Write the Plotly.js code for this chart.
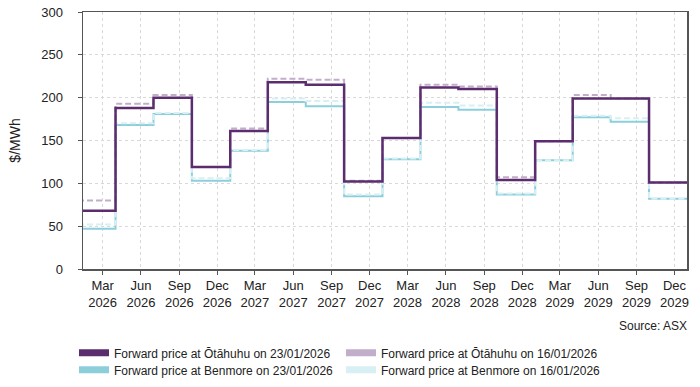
<!DOCTYPE html>
<html>
<head>
<meta charset="utf-8">
<script src="https://cdn.plot.ly/plotly-3.0.1.min.js"></script>
<style>html,body{margin:0;padding:0;background:#fff;}#chart{width:700px;height:387px;}</style>
</head>
<body>
<div id="chart"></div>
<script>
// Quarter labels (tick at the last month of each quarter)
const quarters = ['Mar 2026','Jun 2026','Sep 2026','Dec 2026','Mar 2027','Jun 2027','Sep 2027','Dec 2027',
                  'Mar 2028','Jun 2028','Sep 2028','Dec 2028','Mar 2029','Jun 2029','Sep 2029','Dec 2029'];

const otahuhu23 = [68, 188, 200, 119, 161, 218, 215, 102, 153, 212, 210, 104, 149, 199, 199, 101];
const otahuhu16 = [80, 193, 203, 119, 164, 222, 221, 103, 153, 215, 213, 107, 149, 203, 199, 101];
const benmore23 = [47, 168, 181, 103, 138, 195, 190, 85, 128, 189, 186, 87, 127, 177, 172, 82];
const benmore16 = [52, 170, 182, 106, 139, 199, 196, 87, 129, 194, 191, 88, 127, 179, 176, 82];

const names = ['Forward price at Ōtāhuhu on 23/01/2026','Forward price at Ōtāhuhu on 16/01/2026',
               'Forward price at Benmore on 23/01/2026','Forward price at Benmore on 16/01/2026'];
const colors = ['#5b2d6e','#c2aecb','#8ccfdb','#d8eff3'];
const legendOf = ['legend','legend','legend2','legend2'];

const monthIdx = {Mar:3, Jun:6, Sep:9, Dec:12};
function pad(n){return (n<10?'0':'')+n;}
// tick dates: 1st of the labelled month
const tickVals = quarters.map(q => { const [m,y] = q.split(' '); return y+'-'+pad(monthIdx[m])+'-01'; });
const tickText = quarters.map(q => q.replace(' ','<br>'));
// step boundaries: start of each quarter, plus end of the last quarter
const stepX = quarters.map(q => { const [m,y] = q.split(' '); return y+'-'+pad(monthIdx[m]-2)+'-01'; });
(function(){ const [m,y] = quarters[quarters.length-1].split(' '); stepX.push((+y+1)+'-01-01'); })();
function stepY(arr){ return arr.concat([arr[arr.length-1]]); }

function line(arr, color, width, dash){
  return {x: stepX, y: stepY(arr), type:'scatter', mode:'lines', line:{shape:'hv', color:color, width:width, dash:dash},
          showlegend:false, hoverinfo:'skip'};
}
const traces = [
  line(benmore23, colors[2], 2, 'solid'),
  line(benmore16, colors[3], 2, '6px,3px'),
  line(otahuhu16, colors[1], 2, '6px,3px'),
  line(otahuhu23, colors[0], 2.5, 'solid')
];
names.forEach((n,i) => {
  traces.push({x:[null], y:[null], type:'scatter', mode:'lines', name:n, legend:legendOf[i],
               line:{color:colors[i], width:7}, showlegend:true});
});

const plotH = 387 - 12 - 117.5;
const legendBase = {orientation:'h', x:(74-83)/604, xanchor:'left', yanchor:'top',
          entrywidth:222, entrywidthmode:'pixels', itemwidth:30, traceorder:'normal',
          font:{size:12, color:'#222'}, bgcolor:'rgba(0,0,0,0)'};
const layout = {
  width:700, height:387,
  margin:{l:83, r:13, t:12, b:117.5, pad:0, autoexpand:false},
  paper_bgcolor:'#fff', plot_bgcolor:'#fff',
  font:{family:'Liberation Sans, Arial, sans-serif', size:13, color:'#222'},
  xaxis:{type:'date', range:['2026-01-13','2029-12-31'], tickmode:'array', tickvals:tickVals, ticktext:tickText,
         showgrid:true, gridcolor:'#d9d9d9', griddash:'3px,3px', gridwidth:1,
         ticks:'outside', ticklen:4, tickcolor:'#555', showline:true, linecolor:'#555', linewidth:1.5, mirror:true,
         zeroline:false, tickfont:{size:13, color:'#222'}},
  yaxis:{range:[0,300], dtick:50, showgrid:true, gridcolor:'#d9d9d9', griddash:'3px,3px', gridwidth:1,
         ticks:'outside', ticklen:4, tickcolor:'#555', showline:true, linecolor:'#555', linewidth:1.5, mirror:true,
         zeroline:false, ticklabelstandoff:12, tickfont:{size:13, color:'#222'},
         title:{text:'$/MWh', font:{size:14, color:'#222'}, standoff:17}},
  legend: Object.assign({}, legendBase, {y:-(339-269.5)/plotH}),
  legend2: Object.assign({}, legendBase, {y:-(356-269.5)/plotH}),
  annotations:[{text:'Source: ASX', xref:'paper', yref:'paper', x:1.003, xanchor:'right', y:-(327-269.5)/plotH, yanchor:'middle',
                showarrow:false, font:{size:12, color:'#222'}}]
};
Plotly.newPlot('chart', traces, layout, {displayModeBar:false, staticPlot:true});
</script>
</body>
</html>
